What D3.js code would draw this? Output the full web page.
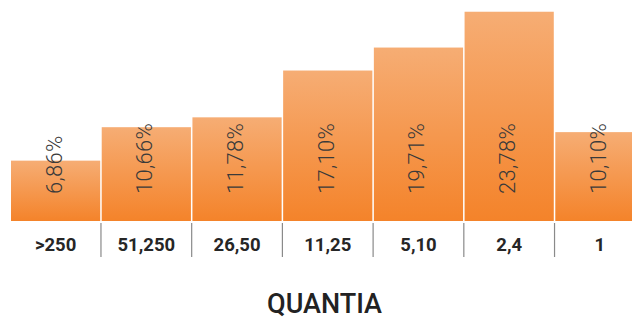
<!DOCTYPE html>
<html>
<head>
<meta charset="utf-8">
<script src="https://cdn.jsdelivr.net/npm/d3@7"></script>
<style>
  html, body { margin: 0; padding: 0; background: #fff; }
  svg { display: block; }
</style>
</head>
<body>
<svg id="chart" width="632" height="320"></svg>
<script>
// Share of items per quantity band
const categories = [">250", "51,250", "26,50", "11,25", "5,10", "2,4", "1"];
const values = [6.86, 10.66, 11.78, 17.10, 19.71, 23.78, 10.10];
const valueLabels = ["6,86%", "10,66%", "11,78%", "17,10%", "19,71%", "23,78%", "10,10%"];
const axisTitle = "QUANTIA";

const svg = d3.select("#chart");
const baseY = 221;

const x = d3.scaleBand()
  .domain(categories)
  .range([11, 11 + 90.5 * categories.length])
  .paddingInner(0.0166)
  .paddingOuter(0);

const y = d3.scaleLinear().domain([0, 25]).range([baseY, 1]);

// Vertical fade from light to saturated orange, per bar
const defs = svg.append("defs");
const grad = defs.append("linearGradient")
  .attr("id", "barFill")
  .attr("x1", 0).attr("y1", 0).attr("x2", 0).attr("y2", 1);
grad.append("stop").attr("offset", "0%").attr("stop-color", "#f6ad74");
grad.append("stop").attr("offset", "100%").attr("stop-color", "#f4832a");

const data = categories.map((c, i) => ({ cat: c, value: values[i], label: valueLabels[i] }));

svg.append("g").selectAll("rect")
  .data(data)
  .join("rect")
  .attr("x", d => x(d.cat))
  .attr("y", d => y(d.value))
  .attr("width", x.bandwidth())
  .attr("height", d => baseY - y(d.value))
  .attr("fill", "url(#barFill)");

// Rotated value labels inside the bars
svg.append("g").selectAll("text")
  .data(data)
  .join("text")
  .attr("transform", d => `translate(${x(d.cat) + x.bandwidth() / 2 - 2},194) rotate(-90)`)
  .attr("dy", "0.36em")
  .attr("text-anchor", "start")
  .attr("font-family", "Roboto, sans-serif")
  .attr("font-weight", 300)
  .attr("font-size", 22)
  .attr("letter-spacing", 0.3)
  .attr("fill", "#3a3a3a")
  .text(d => d.label);

// Category axis: labels with separators between bands
const axis = d3.axisBottom(x).tickSize(0).tickPadding(0);
const gAxis = svg.append("g").attr("transform", `translate(0,${baseY})`).call(axis);
gAxis.select(".domain").remove();
gAxis.selectAll(".tick text")
  .attr("y", 29.5)
  .attr("dy", 0)
  .attr("font-family", "Roboto, sans-serif")
  .attr("font-weight", 700)
  .attr("font-size", 18.5)
  .attr("fill", "#262626");

svg.append("g").selectAll("line")
  .data(categories.slice(1))
  .join("line")
  .attr("x1", d => x(d) - 0.75)
  .attr("x2", d => x(d) - 0.75)
  .attr("y1", baseY + 2)
  .attr("y2", baseY + 36)
  .attr("stroke", "#8a8a8a")
  .attr("stroke-width", 1.2);

svg.append("text")
  .attr("x", 324.5)
  .attr("y", 313)
  .attr("text-anchor", "middle")
  .attr("font-family", "Roboto, sans-serif")
  .attr("font-weight", 500)
  .attr("font-size", 27)
  .attr("fill", "#222")
  .text(axisTitle);
</script>
</body>
</html>
